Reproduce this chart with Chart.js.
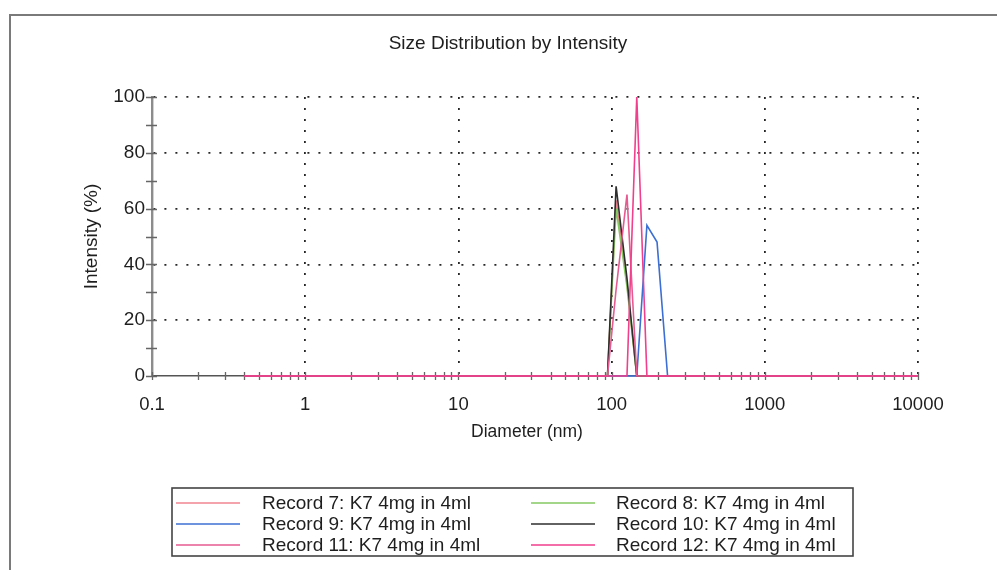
<!DOCTYPE html>
<html>
<head>
<meta charset="utf-8">
<title>Size Distribution by Intensity</title>
<script src="https://cdn.jsdelivr.net/npm/chart.js@4/dist/chart.umd.min.js"></script>
<style>
  html, body { margin: 0; padding: 0; background: #ffffff; }
  #wrap { width: 997px; height: 570px; position: relative; }
  canvas { display: block; }
</style>
</head>
<body>
<div id="wrap"><canvas id="chart" width="997" height="570"></canvas></div>
<script>
// Size classes (nm) where the distributions change; all records are 0 elsewhere
const diameters = [0.4, 94, 107, 126, 146, 170, 198, 232, 10000];

// Intensity (%) of each record at those size classes
const record7  = [0, 0, 63, 33, 0,   0,  0,  0, 0];
const record8  = [0, 0, 60, 32, 0,   0,  0,  0, 0];
const record9  = [0, 0,  0,  0, 0,  54, 48,  0, 0];
const record10 = [0, 0, 68, 35, 0,   0,  0,  0, 0];
const record11 = [0, 0, 31, 65, 0,   0,  0,  0, 0];
const record12 = [0, 0,  0,  0, 100, 0,  0,  0, 0];

const seriesLabels = [
  'Record 7: K7 4mg in 4ml',
  'Record 8: K7 4mg in 4ml',
  'Record 9: K7 4mg in 4ml',
  'Record 10: K7 4mg in 4ml',
  'Record 11: K7 4mg in 4ml',
  'Record 12: K7 4mg in 4ml'
];
const seriesColors = ['#f08490', '#86c862', '#3c6fd4', '#2e2e2e', '#e65a92', '#f03f8c'];

// Axis ticks
const xTickLabels = [0.1, 1, 10, 100, 1000, 10000];
const yTickLabels = [0, 20, 40, 60, 80, 100];
const yMinorTicks = [10, 30, 50, 70, 90];

const FONT = '"Liberation Sans", Arial, Helvetica, sans-serif';
Chart.defaults.font.family = FONT;
Chart.defaults.color = '#1e1e1e';

// log axis: a tick at every 1..9 step of each decade
function xAllTicks() {
  const out = [];
  for (let i = 0; i < xTickLabels.length; i++) {
    const d = xTickLabels[i];
    out.push(d);
    if (i < xTickLabels.length - 1) {
      for (let m = 2; m <= 9; m++) out.push(+(d * m).toPrecision(6));
    }
  }
  return out;
}
function yAllTicks() {
  return yTickLabels.concat(yMinorTicks).sort((a, b) => a - b);
}

const allRecords = [record7, record8, record9, record10, record11, record12];
const datasets = allRecords.map((vals, i) => ({
  label: seriesLabels[i],
  data: diameters.map((d, k) => ({ x: d, y: vals[k] })),
  borderColor: seriesColors[i],
  backgroundColor: seriesColors[i],
  borderWidth: 1.6,
  pointRadius: 0,
  pointHoverRadius: 0,
  fill: false,
  tension: 0,
  clip: 4,
  order: allRecords.length - i
}));

// frame, titles, crossing tick marks and the boxed two-column legend
const decorations = {
  id: 'decorations',
  beforeDraw(chart) {
    const ctx = chart.ctx;
    ctx.save();
    ctx.fillStyle = '#ffffff';
    ctx.fillRect(0, 0, chart.width, chart.height);
    // page frame
    ctx.strokeStyle = '#7a7a7a';
    ctx.lineWidth = 2;
    ctx.beginPath();
    ctx.moveTo(10, chart.height);
    ctx.lineTo(10, 15);
    ctx.lineTo(chart.width, 15);
    ctx.stroke();
    // chart title and x axis title
    ctx.fillStyle = '#1e1e1e';
    ctx.textAlign = 'center';
    ctx.textBaseline = 'middle';
    ctx.font = '19px ' + FONT;
    ctx.fillText('Size Distribution by Intensity', 508, 44);
    ctx.font = '17.5px ' + FONT;
    ctx.fillText('Diameter (nm)', 527, 432);
    ctx.restore();
  },
  beforeDatasetsDraw(chart) {
    const ctx = chart.ctx;
    const xs = chart.scales.x, ys = chart.scales.y;
    const area = chart.chartArea;
    ctx.save();
    ctx.strokeStyle = '#666666';
    ctx.lineWidth = 1.3;
    ctx.beginPath();
    xs.ticks.forEach(t => {
      const px = Math.round(xs.getPixelForValue(t.value)) + 0.5;
      ctx.moveTo(px, area.bottom - 4);
      ctx.lineTo(px, area.bottom + 4);
    });
    ys.ticks.forEach(t => {
      const py = Math.round(ys.getPixelForValue(t.value)) + 0.5;
      ctx.moveTo(area.left - 6, py);
      ctx.lineTo(area.left + 5, py);
    });
    ctx.stroke();
    ctx.restore();
  },
  afterDraw(chart) {
    const ctx = chart.ctx;
    const box = { left: 172, top: 488, right: 853, bottom: 556 };
    ctx.save();
    ctx.strokeStyle = '#444444';
    ctx.lineWidth = 1.6;
    ctx.strokeRect(box.left, box.top, box.right - box.left, box.bottom - box.top);
    const rowY = [503, 524, 545];
    const colSample = [176, 531];
    const colText = [262, 616];
    ctx.font = '19px ' + FONT;
    ctx.textAlign = 'left';
    ctx.textBaseline = 'middle';
    chart.data.datasets.forEach((ds, i) => {
      const r = Math.floor(i / 2), c = i % 2;
      const y = rowY[r];
      ctx.strokeStyle = ds.borderColor;
      ctx.lineWidth = 1.6;
      ctx.beginPath();
      ctx.moveTo(colSample[c], y);
      ctx.lineTo(colSample[c] + 64, y);
      ctx.stroke();
      ctx.fillStyle = '#1e1e1e';
      ctx.fillText(ds.label, colText[c], y + 1);
    });
    ctx.restore();
  }
};

new Chart(document.getElementById('chart'), {
  type: 'line',
  data: { datasets },
  options: {
    responsive: false,
    animation: false,
    events: [],
    layout: { padding: { left: 0, top: 97, right: 79, bottom: 114 } },
    plugins: { legend: { display: false }, title: { display: false }, tooltip: { enabled: false } },
    scales: {
      x: {
        type: 'logarithmic',
        min: 0.1,
        max: 10000,
        afterBuildTicks(scale) {
          scale.ticks = xAllTicks().map(v => ({ value: v, major: xTickLabels.includes(v) }));
        },
        afterFit(scale) { scale.height = 80; },
        ticks: {
          autoSkip: false,
          maxRotation: 0,
          minRotation: 0,
          padding: 18,
          font: { size: 18.5 },
          color: '#1e1e1e',
          callback: (v) => xTickLabels.includes(v) ? String(v) : ''
        },
        grid: {
          drawTicks: false,
          lineWidth: 1.8,
          color: (c) => (c.tick && xTickLabels.includes(c.tick.value) && c.tick.value !== xTickLabels[0]) ? '#262626' : 'rgba(0,0,0,0)'
        },
        border: { display: true, color: '#555555', width: 1.6, dash: [2, 9] },
        title: { display: false }
      },
      y: {
        type: 'linear',
        min: 0,
        max: 100,
        afterBuildTicks(scale) {
          scale.ticks = yAllTicks().map(v => ({ value: v }));
        },
        afterFit(scale) { scale.width = 152; },
        ticks: {
          autoSkip: false,
          padding: 7,
          font: { size: 19 },
          color: '#1e1e1e',
          callback: (v) => yTickLabels.includes(v) ? String(v) : ''
        },
        grid: {
          drawTicks: false,
          lineWidth: 1.8,
          color: (c) => (c.tick && yTickLabels.includes(c.tick.value) && c.tick.value !== 0) ? '#262626' : 'rgba(0,0,0,0)'
        },
        border: { display: true, color: '#8c8c8c', width: 2.4, dash: [2, 9] },
        title: {
          display: true,
          text: 'Intensity (%)',
          font: { size: 19 },
          color: '#1e1e1e',
          padding: { top: 80, bottom: 0 }
        }
      }
    }
  },
  plugins: [decorations]
});
</script>
</body>
</html>
